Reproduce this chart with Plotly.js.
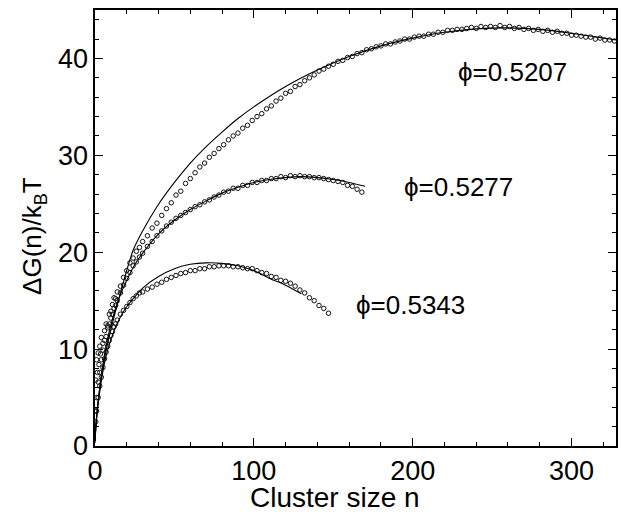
<!DOCTYPE html>
<html>
<head>
<meta charset="utf-8">
<script src="https://cdn.plot.ly/plotly-3.0.1.min.js"></script>
<style>html,body{margin:0;padding:0;background:#fff;}#chart{width:621px;height:512px;}</style>
</head>
<body>
<div id="chart"></div>
<script>
// phi = 0.5207 : simulation points
const n1 = [0.5,1,1.5,2,2.5,3,3.5,4,5,6,7,8,9,10,11,12,13,14,16,18,20,22,24,26,28,30,33,36,39,42,45,48,51,54,57,60,63,66,69,72,75,78,81,84,87,90,93,96,99,102,105,108,111,114,117,120,123,126,129,132,135,138,141,144,147,150,153,156,159,162,165,168,171,174,177,180,183,186,189,192,195,198,201,204,207,210,213,216,219,222,225,228,231,234,237,240,243,246,249,252,255,258,261,264,267,270,273,276,279,282,285,288,291,294,297,300,303,306,309,312,315,318,321,324,327];
const g1 = [6.8,8.9,7.6,9.6,8.4,10.3,9.5,11.2,10.6,11.9,12.6,12.4,13.6,13.9,14.6,15.3,15.2,15.9,16.5,17.4,18.1,18.9,19.4,20.1,20.5,21.1,21.7,22.5,23.0,23.8,24.5,25.1,25.9,26.3,27.1,27.6,28.2,28.8,29.2,29.8,30.2,30.7,31.1,31.6,32.0,32.3,32.8,33.1,33.6,34.0,34.3,34.8,35.1,35.6,35.9,36.4,36.6,37.1,37.3,37.7,38.0,38.3,38.7,38.9,39.2,39.4,39.7,39.8,40.1,40.2,40.5,40.6,40.9,41.0,41.2,41.3,41.5,41.5,41.7,41.8,42.0,42.0,42.2,42.3,42.3,42.5,42.5,42.7,42.7,42.9,42.9,43.0,43.0,43.1,43.2,43.1,43.3,43.2,43.3,43.2,43.4,43.2,43.3,43.1,43.2,43.0,43.1,42.9,43.0,42.8,42.9,42.7,42.8,42.6,42.6,42.4,42.4,42.3,42.2,42.2,42.0,42.1,41.9,41.9,41.8];
// phi = 0.5207 : fitted curve
const fn1 = [0,0.5,2,5,10,15,24,30,39,50,60,70,80,90,100,120,140,160,180,200,220,240,260,280,300,328];
const fg1 = [0.3,2.0,4.7,8.2,12.0,15.2,20.2,22.2,24.7,27.2,29.2,30.9,32.4,33.8,35.0,37.1,38.8,40.2,41.3,42.1,42.7,43.05,43.15,43.0,42.6,41.9];

// phi = 0.5277
const n2 = [0.5,1,2,3,4,5,6,7,8,9,10,11,12,13,14,16,18,20,22,24,26,28,30,33,36,39,42,45,48,51,54,57,60,63,66,69,72,75,78,81,84,87,90,93,96,99,102,105,108,111,114,117,120,123,126,129,132,135,138,141,144,147,150,153,156,159,162,165,168];
const g2 = [3.6,5.0,6.6,7.6,8.9,9.9,10.9,11.3,12.2,12.6,13.2,13.6,14.2,14.5,15.0,15.8,16.6,17.3,17.9,18.6,19.0,19.5,19.9,20.6,21.1,21.7,22.2,22.7,23.1,23.5,23.8,24.1,24.4,24.7,24.9,25.2,25.4,25.7,25.9,26.2,26.3,26.6,26.6,26.9,26.9,27.2,27.2,27.4,27.4,27.6,27.6,27.8,27.7,27.9,27.8,27.9,27.8,27.8,27.7,27.7,27.6,27.5,27.4,27.3,27.2,26.9,26.8,26.5,26.2];
const fn2 = [0,1,3,6,10,15,20,25,30,40,50,60,70,80,90,100,110,120,130,140,150,160,170];
const fg2 = [0.5,3.0,6.0,9.4,12.5,15.2,17.1,18.7,19.9,21.9,23.3,24.4,25.3,26.1,26.7,27.2,27.5,27.7,27.8,27.7,27.5,27.2,26.8];

// phi = 0.5343
const n3 = [0.5,1,2,3,4,5,6,7,8,9,10,11,12,13,14,16,18,20,22,24,26,28,30,33,36,39,42,45,48,51,54,57,60,63,66,69,72,75,78,81,84,87,90,93,96,99,102,105,108,111,114,117,120,123,126,129,132,135,138,141,144,147];
const g3 = [2.5,3.6,5.0,6.2,7.1,8.1,9.0,9.7,10.3,10.9,11.4,11.8,12.3,12.6,13.0,13.6,14.0,14.4,14.8,15.2,15.5,15.8,15.9,16.2,16.4,16.7,16.9,17.2,17.4,17.6,17.8,17.9,18.1,18.1,18.3,18.3,18.5,18.5,18.6,18.6,18.6,18.5,18.5,18.4,18.3,18.3,18.1,17.9,17.8,17.5,17.4,17.1,17.0,16.8,16.5,16.1,15.8,15.3,15.0,14.5,14.2,13.7];
const fn3 = [0,1,3,6,10,15,20,25,30,40,50,60,70,80,90,100,110,120,130];
const fg3 = [0.5,2.8,5.6,8.6,11.0,13.0,14.4,15.4,16.3,17.5,18.3,18.75,18.9,18.85,18.6,18.1,17.3,16.6,15.7];

const labels = ['ϕ=0.5207','ϕ=0.5277','ϕ=0.5343'];
const labelX = [227,193,163];
const labelY = [38.6,26.7,14.6];

const xTickVals = [0,100,200,300];
const yTickVals = [0,10,20,30,40];
const xTitle = 'Cluster size n';
const yTitle = 'ΔG(n)/k<sub>B</sub>T';

const FONT = 'Liberation Sans, Arial, Helvetica, sans-serif';
const pts = (x,y)=>({x:x,y:y,type:'scatter',mode:'markers',
  marker:{symbol:'circle-open',size:4.5,color:'#111',line:{width:1,color:'#111'}},hoverinfo:'skip'});
const fit = (x,y)=>({x:x,y:y,type:'scatter',mode:'lines',
  line:{color:'#000',width:1.1,shape:'spline',smoothing:0.8},hoverinfo:'skip'});

const data = [pts(n1,g1),pts(n2,g2),pts(n3,g3),fit(fn1,fg1),fit(fn2,fg2),fit(fn3,fg3)];

const axisCommon = {
  showgrid:false, zeroline:false, showline:true, linecolor:'#000', linewidth:1.6,
  mirror:'ticks', ticks:'inside', ticklen:8, tickwidth:1.2, tickcolor:'#000',
  tickfont:{family:FONT,size:27,color:'#000'}
};

const layout = {
  width:621, height:512,
  margin:{l:95,r:5,t:10,b:66},
  paper_bgcolor:'#fff', plot_bgcolor:'#fff',
  showlegend:false,
  font:{family:FONT,color:'#000'},
  xaxis:Object.assign({}, axisCommon, {
    range:[0,328], tickvals:xTickVals, ticktext:xTickVals.map(String),
    minor:{dtick:20, tick0:0, ticks:'inside', ticklen:4, tickwidth:1, tickcolor:'#000'}
  }),
  yaxis:Object.assign({}, axisCommon, {
    range:[0,45], tickvals:yTickVals, ticktext:yTickVals.map(String),
    minor:{dtick:2, tick0:0, ticks:'inside', ticklen:4, tickwidth:1, tickcolor:'#000'}
  }),
  annotations: labels.map((t,i)=>({x:labelX[i], y:labelY[i], xref:'x', yref:'y', text:t,
    showarrow:false, xanchor:'left', yanchor:'middle', font:{family:FONT,size:26,color:'#000'}}))
  .concat([
    {x:0.4607, y:-0.117, xref:'paper', yref:'paper', text:xTitle, showarrow:false,
     xanchor:'center', yanchor:'middle', font:{family:FONT,size:28,color:'#000'}},
    {x:-0.117, y:0.482, xref:'paper', yref:'paper', text:yTitle, showarrow:false, textangle:-90,
     xanchor:'center', yanchor:'middle', font:{family:FONT,size:26,color:'#000'}}
  ])
};

Plotly.newPlot('chart', data, layout, {displayModeBar:false, staticPlot:true});
</script>
</body>
</html>
